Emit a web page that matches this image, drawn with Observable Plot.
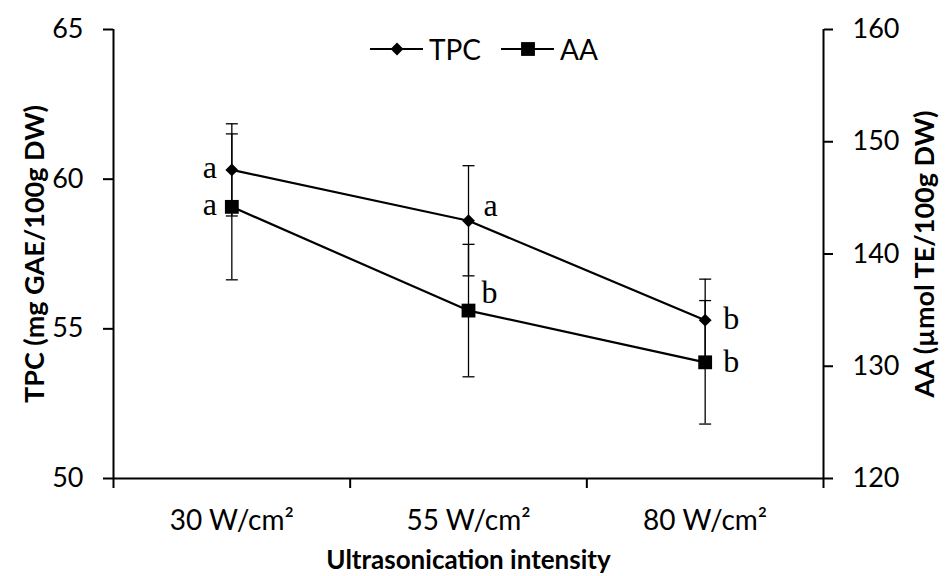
<!DOCTYPE html>
<html>
<head>
<meta charset="utf-8">
<script src="https://cdn.jsdelivr.net/npm/d3@7"></script>
<script src="https://cdn.jsdelivr.net/npm/@observablehq/plot@0.6"></script>
<style>
  html, body { margin: 0; padding: 0; background: #fff; }
  #wrap { position: relative; width: 947px; height: 576px; }
  #legend { position: absolute; left: 370px; top: 35px; display: flex; align-items: center;
            font-family: Lato, sans-serif; font-size: 28px; color: #000; line-height: 28px; }
  #legend .item { display: flex; align-items: center; }
  #legend svg { display: block; }
</style>
</head>
<body>
<div id="wrap">
  <div id="chart"></div>
  <div id="legend"></div>
</div>
<script>
const categories = ["30 W/cm²", "55 W/cm²", "80 W/cm²"];
const tpc = [60.31, 58.61, 55.29];
const tpcErr = [1.54, 1.84, 1.37];
const aa = [144.2, 134.96, 130.35];
const aaErr = [6.5, 5.9, 5.5];
const tpcLetters = ["a", "a", "b"];
const aaLetters = ["a", "b", "b"];
const tpcTicks = [50, 55, 60, 65];
const aaTicks = [120, 130, 140, 150, 160];
const seriesNames = ["TPC", "AA"];

const tpcDomain = [50, 65];
const aaDomain = [120, 160];
const toLeft = v => tpcDomain[0] + (v - aaDomain[0]) * (tpcDomain[1] - tpcDomain[0]) / (aaDomain[1] - aaDomain[0]);
const toRight = v => aaDomain[0] + (v - tpcDomain[0]) * (aaDomain[1] - aaDomain[0]) / (tpcDomain[1] - tpcDomain[0]);

const tpcRows = categories.map((c, i) => ({i, x: i + 0.5, y: tpc[i], lo: tpc[i] - tpcErr[i], hi: tpc[i] + tpcErr[i], t: tpcLetters[i]}));
const aaRows = categories.map((c, i) => ({i, x: i + 0.5, y: toLeft(aa[i]), lo: toLeft(aa[i] - aaErr[i]), hi: toLeft(aa[i] + aaErr[i]), t: aaLetters[i]}));
const allRows = tpcRows.concat(aaRows);
const caps = allRows.flatMap(d => [{x: d.x, y: d.lo}, {x: d.x, y: d.hi}]);

const capSymbol = {
  draw(context, size) {
    const w = Math.sqrt(size / Math.PI);
    context.moveTo(-w, 0);
    context.lineTo(w, 0);
  }
};

const font = "Lato, sans-serif";
const serif = "'Liberation Serif', serif";

const chart = Plot.plot({
  width: 947,
  height: 576,
  marginLeft: 113,
  marginRight: 124,
  marginTop: 29,
  marginBottom: 98,
  style: {fontFamily: font, fontSize: "27px", color: "#000", background: "#fff", overflow: "visible"},
  x: {domain: [0, categories.length]},
  y: {domain: tpcDomain},
  marks: [
    // axes
    Plot.axisY(tpcTicks, {anchor: "left", tickSize: 10, tickPadding: 20, strokeWidth: 2, label: null, fontSize: 27}),
    Plot.axisY(aaTicks.map(toLeft), {anchor: "right", tickSize: 9, tickPadding: 20, strokeWidth: 2, label: null, fontSize: 27,
      tickFormat: d => String(Math.round(toRight(d)))}),
    Plot.axisX(d3.range(categories.length + 1), {anchor: "bottom", tickSize: 10, strokeWidth: 2, tickFormat: () => "", label: null}),
    Plot.axisX(categories.map((c, i) => i + 0.5), {anchor: "bottom", tickSize: 0, tickPadding: 32, label: null, fontSize: 28,
      tickFormat: d => categories[Math.floor(d)]}),
    Plot.ruleX([0, categories.length], {stroke: "#000", strokeWidth: 2}),
    Plot.ruleY([tpcDomain[0]], {stroke: "#000", strokeWidth: 2}),
    // error bars
    Plot.ruleX(allRows, {x: "x", y1: "lo", y2: "hi", stroke: "#000", strokeWidth: 1.3}),
    Plot.dot(caps, {x: "x", y: "y", symbol: capSymbol, r: 6, fill: "none", stroke: "#000", strokeWidth: 1.3}),
    // lines
    Plot.line(tpcRows, {x: "x", y: "y", stroke: "#000", strokeWidth: 2.2}),
    Plot.line(aaRows, {x: "x", y: "y", stroke: "#000", strokeWidth: 2.2}),
    // markers
    Plot.dot(tpcRows, {x: "x", y: "y", symbol: "diamond2", r: 5.8, fill: "#000", stroke: "none"}),
    Plot.dot(aaRows, {x: "x", y: "y", symbol: "square", r: 7.8, fill: "#000", stroke: "none"}),
    // significance letters
    Plot.text(allRows.filter(d => d.i === 0), {x: "x", y: "y", text: "t", dx: -15, dy: -2, textAnchor: "end", fontFamily: serif, fontSize: 32}),
    Plot.text(tpcRows.filter(d => d.i === 1), {x: "x", y: "y", text: "t", dx: 15, dy: -15, textAnchor: "start", fontFamily: serif, fontSize: 32}),
    Plot.text(aaRows.filter(d => d.i === 1), {x: "x", y: "y", text: "t", dx: 13, dy: -18, textAnchor: "start", fontFamily: serif, fontSize: 32}),
    Plot.text(allRows.filter(d => d.i === 2), {x: "x", y: "y", text: "t", dx: 18, dy: -1, textAnchor: "start", fontFamily: serif, fontSize: 32}),
    // axis titles
    Plot.text(["TPC (mg GAE/100g DW)"], {frameAnchor: "left", rotate: -90, dx: -70, textAnchor: "middle", lineAnchor: "bottom", fontWeight: "bold", fontSize: 27, fontFamily: font}),
    Plot.text(["AA (µmol TE/100g DW)"], {frameAnchor: "right", rotate: -90, dx: 110, textAnchor: "middle", lineAnchor: "bottom", fontWeight: "bold", fontSize: 27, fontFamily: font}),
    Plot.text(["Ultrasonication intensity"], {frameAnchor: "bottom", dy: 90, textAnchor: "middle", lineAnchor: "bottom", fontWeight: "bold", fontSize: 26, fontFamily: font})
  ]
});
document.getElementById("chart").appendChild(chart);

// legend
const legend = d3.select("#legend");
const symbols = [d3.symbolDiamond2, d3.symbolSquare];
const symSizes = [Math.PI * 5.8 * 5.8, Math.PI * 7.8 * 7.8];
const gaps = [20, 0];
seriesNames.forEach((name, k) => {
  const item = legend.append("div").attr("class", "item").style("margin-right", gaps[k] + "px");
  const svg = item.append("svg").attr("width", 54).attr("height", 24);
  svg.append("line").attr("x1", 0).attr("x2", 53).attr("y1", 12).attr("y2", 12).attr("stroke", "#000").attr("stroke-width", 2.2);
  svg.append("path").attr("d", d3.symbol(symbols[k], symSizes[k])()).attr("transform", "translate(27,12)").attr("fill", "#000");
  item.append("span").text(name).style("margin-left", "5px");
});
</script>
</body>
</html>
